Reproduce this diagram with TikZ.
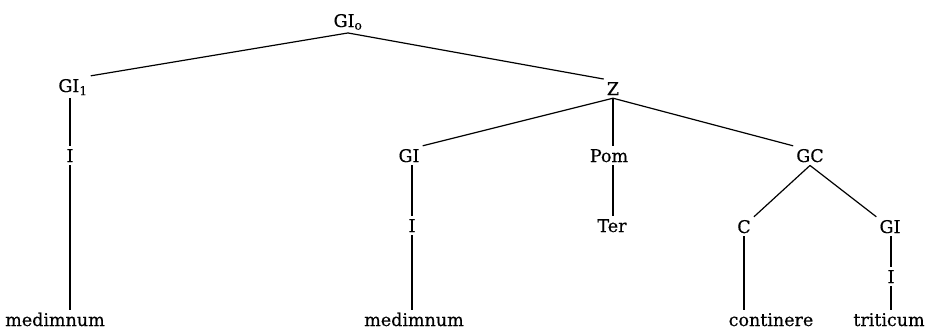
\documentclass[tikz,border=0pt]{standalone}
\usepackage{fontspec}
\setmainfont{DejaVu Serif}[FakeBold=0.4]
\begin{document}
\begin{tikzpicture}[x=1pt,y=-1pt,
  lbl/.style={anchor=base,inner sep=3pt,font=\fontsize{17.5}{21}\selectfont},
  edge/.style={line width=1.2pt}]
\useasboundingbox (0,0) rectangle (936,330);
\node[lbl] (GI0) at (348,27) {GI\textsubscript{o}};
\node[lbl] (GI1) at (73,92) {GI\textsubscript{1}};
\node[lbl] (Z) at (613,95) {Z};
\node[lbl] (I1) at (70,162) {I};
\node[lbl] (GI2) at (409,162) {GI};
\node[lbl] (Pom) at (609,162) {Pom};
\node[lbl] (GC) at (810,162) {GC};
\node[lbl] (I2) at (412,232) {I};
\node[lbl] (Ter) at (612,232) {Ter};
\node[lbl] (C) at (744,233) {C};
\node[lbl] (GI3) at (890,233) {GI};
\node[lbl] (I3) at (891,283) {I};
\node[lbl] (M1) at (55,326) {medimnum};
\node[lbl] (M2) at (414,326) {medimnum};
\node[lbl] (cont) at (771,326) {continere};
\node[lbl] (trit) at (889,326) {triticum};
\draw[edge] (GI0.south) -- (GI1.north east);
\draw[edge] (GI0.south) -- (Z.north west);
\draw[edge] (I1.north |- GI1.south) -- (I1.north);
\draw[edge] (I1.south) -- (I1.south |- M1.north);
\draw[edge] (Z.south) -- (GI2.north east);
\draw[edge] (Z.south) -- (Z.south |- Pom.north);
\draw[edge] (Z.south) -- (GC.north west);
\draw[edge] (I2.north |- GI2.south) -- (I2.north);
\draw[edge] (I2.south) -- (I2.south |- M2.north);
\draw[edge] (Z.south |- Pom.south) -- (Z.south |- Ter.north);
\draw[edge] (GC.south) -- (C.north east);
\draw[edge] (GC.south) -- (GI3.north west);
\draw[edge] (C.south) -- (C.south |- cont.north);
\draw[edge] (I3.north |- GI3.south) -- (I3.north);
\draw[edge] (I3.south) -- (I3.south |- trit.north);
\end{tikzpicture}
\end{document}
